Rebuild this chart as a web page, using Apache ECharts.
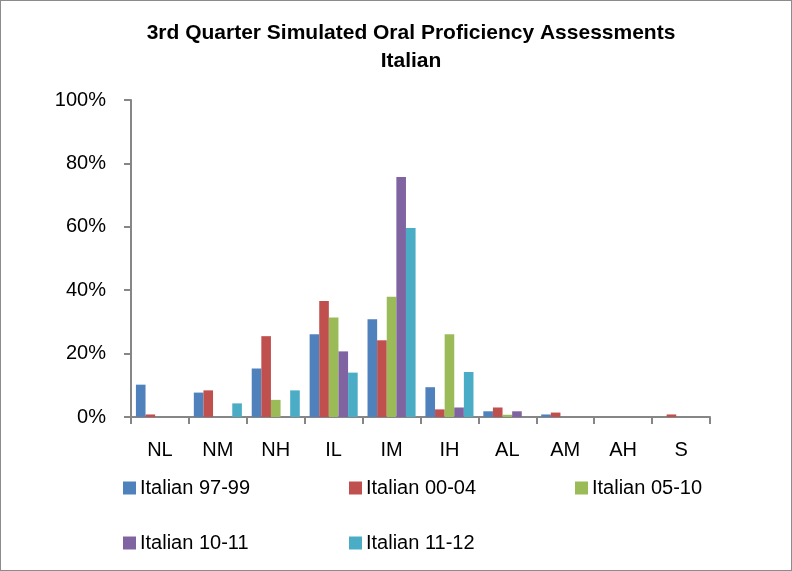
<!DOCTYPE html>
<html>
<head>
<meta charset="utf-8">
<script src="https://cdn.jsdelivr.net/npm/echarts@6/dist/echarts.min.js"></script>
<style>
  html, body { margin: 0; padding: 0; background: #fff; }
  #chart { width: 790px; height: 569px; border: 1px solid #8c8c8c; }
</style>
</head>
<body>
<div id="chart"></div>
<script>
// levels on the x axis
const levels = ["NL", "NM", "NH", "IL", "IM", "IH", "AL", "AM", "AH", "S"];

// percent of students per level
const italian9799 = [10.2, 7.7, 15.3, 26.1, 30.8, 9.4, 1.8, 0.8, 0, 0];
const italian0004 = [0.8, 8.4, 25.5, 36.6, 24.2, 2.4, 3.0, 1.4, 0, 0.8];
const italian0510 = [0, 0, 5.4, 31.4, 37.9, 26.1, 0.7, 0, 0, 0];
const italian1011 = [0, 0, 0, 20.7, 75.7, 3.0, 1.8, 0, 0, 0];
const italian1112 = [0, 4.3, 8.4, 14.0, 59.6, 14.2, 0, 0, 0, 0];

const seriesNames = ["Italian 97-99", "Italian 00-04", "Italian 05-10", "Italian 10-11", "Italian 11-12"];
const seriesData = [italian9799, italian0004, italian0510, italian1011, italian1112];
const colors = ["#4F81BD", "#C0504D", "#9BBB59", "#8064A2", "#4BACC6"];

const font = "Liberation Sans";

// legend spots (two rows like the original)
const legendPos = [
  { left: 122, top: 477 },
  { left: 348, top: 477 },
  { left: 574, top: 477 },
  { left: 122, top: 532 },
  { left: 348, top: 532 }
];

var chart = echarts.init(document.getElementById("chart"));
chart.setOption({
  animation: false,
  color: colors,
  title: {
    text: "3rd Quarter Simulated Oral Proficiency Assessments\nItalian",
    left: 410,
    top: 18,
    padding: 0,
    textAlign: "center",
    textStyle: { fontFamily: font, fontSize: 21, fontWeight: "bold", color: "#000", lineHeight: 28 }
  },
  legend: seriesNames.map((name, i) => ({
    data: [name],
    left: legendPos[i].left,
    top: legendPos[i].top,
    padding: 0,
    itemWidth: 13,
    itemHeight: 13,
    itemGap: 4,
    icon: "rect",
    textStyle: { fontFamily: font, fontSize: 20, color: "#000", padding: [0, 0, 0, -1] }
  })),
  grid: { left: 130, right: 81, top: 99, bottom: 153 },
  xAxis: {
    type: "category",
    data: levels,
    axisLine: { lineStyle: { color: "#868686", width: 2 } },
    axisTick: { show: true, length: 7, lineStyle: { color: "#868686", width: 2 } },
    axisLabel: { fontFamily: font, fontSize: 20, color: "#000", margin: 23 }
  },
  yAxis: {
    type: "value",
    min: 0,
    max: 100,
    interval: 20,
    splitLine: { show: false },
    axisLine: { show: true, lineStyle: { color: "#868686", width: 2 } },
    axisTick: { show: true, length: 7, lineStyle: { color: "#868686", width: 2 } },
    axisLabel: { fontFamily: font, fontSize: 20, color: "#000", margin: 25, formatter: "{value}%" }
  },
  series: seriesNames.map((name, i) => ({
    name: name,
    type: "bar",
    data: seriesData[i],
    barGap: "0%",
    barCategoryGap: "17%"
  }))
});
</script>
</body>
</html>
